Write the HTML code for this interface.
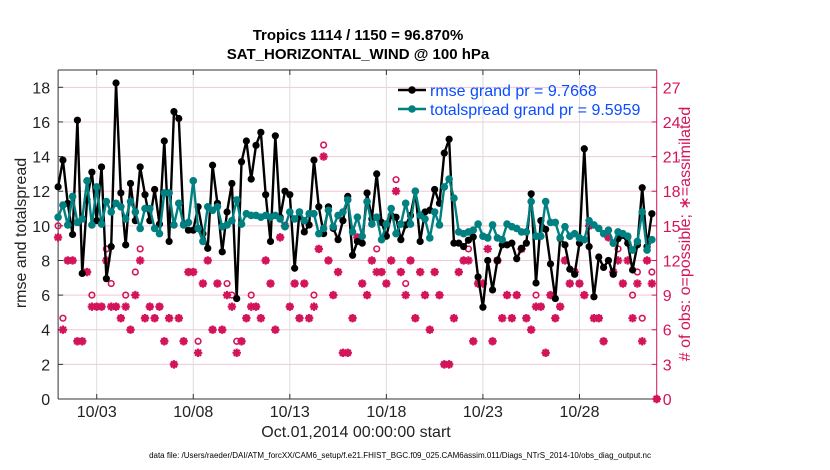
<!DOCTYPE html>
<html><head><meta charset="utf-8"><style>
body{margin:0;background:#fff;}
svg{display:block;font-family:"Liberation Sans",Arial,sans-serif;}
</style></head><body>
<svg id="chart" width="830" height="470"></svg>
<script>
const rmse=[12.25,13.8,11.3,9.5,16.1,7.25,11.5,13.1,10.3,13.4,6.95,8.8,18.25,11.9,8.9,12.45,10.3,13.4,11.8,10.3,12.1,10.1,14.9,9.1,16.6,16.2,10.1,9.75,9.75,11.1,9.55,8.7,13.5,11.3,8.5,10.8,12.45,5.8,13.7,14.9,12.7,14.65,15.4,
11.8,9.1,15.2,10.5,12.0,11.8,7.55,10.8,9.65,10.05,13.8,11.1,9.55,11.1,9.85,9.2,10.3,11.7,8.3,9.1,9.0,11.9,10.4,13.0,10.2,9.4,10.6,10.5,9.2,10.05,10.6,12.0,9.1,10.8,10.9,12.1,11.3,14.2,15.0,9.0,9.0,8.8,
9.17,9.36,7.05,5.3,8.0,6.3,8.0,8.9,8.9,9.0,8.1,8.7,9.0,11.85,6.7,10.3,9.8,7.8,5.8,9.26,8.9,7.5,7.2,9.0,14.45,8.8,5.9,8.2,7.6,8.0,7.2,9.26,9.45,9.0,7.45,8.9,12.2,8.8,10.7];
const spread=[10.5,11.2,10.05,11.7,10.2,10.4,12.6,10.05,12.25,10.1,11.4,10.8,11.3,11.1,10.4,11.4,10.8,9.85,11.0,11.0,9.85,9.55,11.9,11.9,10.05,11.3,10.05,10.2,12.6,9.85,9.1,11.1,10.9,11.1,9.95,10.05,10.3,11.5,10.1,10.7,10.6,10.6,10.5,
10.6,10.5,10.6,10.4,9.95,10.8,10.4,10.8,10.3,10.7,10.7,9.55,9.85,10.9,9.95,10.6,10.8,11.5,9.65,10.5,9.4,11.4,10.1,10.5,9.2,10.1,11.0,9.55,10.1,11.3,10.1,12.0,10.6,10.4,9.3,10.8,10.05,12.25,12.7,11.6,9.65,9.55,
9.65,9.75,10.1,9.4,9.3,10.05,9.3,9.2,10.1,9.95,9.85,9.65,9.65,11.4,9.4,9.4,11.4,10.2,10.2,9.3,9.95,9.4,9.55,9.3,9.2,10.3,10.05,9.85,9.55,9.75,9.0,9.65,9.55,9.4,8.6,9.1,10.8,8.6,9.2];
const possible=[15,7,12,12,5,5,11,9,8,8,13,10,8,7,9,6,11,13,7,8,7,8,5,7,3,7,5,11,11,5,10,12,6,10,6,10,9,5,5,7,9,8,7,
12,10,6,14,15,8,10,7,10,7,9,13,22,12,9,11,4,4,7,14,10,9,12,13,11,10,12,19,11,10,12,7,11,9,6,11,9,3,3,7,11,12,
13,5,10,10,14,5,12,7,9,7,9,13,7,6,9,8,4,9,7,8,12,10,11,10,9,15,7,7,5,14,11,13,10,14,9,11,7,12,11,0];
const assimilated=[14,6,12,12,5,5,11,8,8,8,12,8,8,7,8,6,9,12,7,8,7,8,5,7,3,7,5,11,11,4,10,12,6,10,6,9,8,4,5,7,8,8,7,
12,10,6,14,15,8,10,7,10,7,8,13,21,12,9,11,4,4,7,14,10,9,12,11,11,10,12,18,11,9,12,7,11,9,6,11,9,3,3,7,11,12,
12,5,10,10,13,5,12,7,9,7,9,13,7,6,8,8,4,9,7,8,12,10,11,10,9,15,7,7,5,14,11,12,10,12,7,10,5,12,10,0];
const leftTicks=[0,2,4,6,8,10,12,14,16,18];
const rightTicks=[0,3,6,9,12,15,18,21,24,27];
const dateTicks=[2,7,12,17,22,27];
const dateLabels=["10/03","10/08","10/13","10/18","10/23","10/28"];

const L=58.1,R=656.7,T=70,B=399;
const X=t=>L+(t/31)*(R-L);
const Y=v=>B-(v/19)*(B-T);
const Y2=v=>B-(v/28.5)*(B-T);
const tOf=i=>i*0.25;
const NS="http://www.w3.org/2000/svg";
const svg=document.getElementById('chart');
function mk(tag,attrs,parent){const e=document.createElementNS(NS,tag);for(const k in attrs)e.setAttribute(k,attrs[k]);(parent||svg).appendChild(e);return e;}
const OBS="#d4145a",TEAL="#008080";

// grid
const grid=mk('g',{});


rightTicks.forEach(v=>{if(v>0)mk('line',{x1:L,x2:R,y1:Y2(v),y2:Y2(v),stroke:"#f0c8d8","stroke-width":1},grid);});
dateTicks.forEach(t=>mk('line',{x1:X(t),x2:X(t),y1:T,y2:B,stroke:"#dcdcdc","stroke-width":1},grid));

// axes
const ax=mk('g',{});


mk('line',{x1:L,x2:R,y1:T,y2:T,stroke:"#333","stroke-width":1},ax);
mk('line',{x1:L,x2:R,y1:B,y2:B,stroke:"#333","stroke-width":1},ax);
mk('line',{x1:L,x2:L,y1:T,y2:B,stroke:"#333","stroke-width":1},ax);
mk('line',{x1:R,x2:R,y1:T,y2:B,stroke:OBS,"stroke-width":1},ax);
leftTicks.forEach(v=>{
  mk('line',{x1:L,x2:L+5,y1:Y(v),y2:Y(v),stroke:"#333"},ax);
  const t=mk('text',{x:L-8,y:Y(v)+6,"text-anchor":"end","font-size":16,fill:"#222"},ax);t.textContent=v;
  
  
});
rightTicks.forEach(v=>{
  mk('line',{x1:R-5,x2:R,y1:Y2(v),y2:Y2(v),stroke:OBS},ax);
  const t=mk('text',{x:R+6,y:Y2(v)+6,"font-size":16,fill:OBS},ax);t.textContent=v;
  
  
});
dateTicks.forEach((d,i)=>{
  mk('line',{x1:X(d),x2:X(d),y1:B,y2:B-5,stroke:"#333"},ax);
  mk('line',{x1:X(d),x2:X(d),y1:T,y2:T+5,stroke:"#333"},ax);
  const t=mk('text',{x:X(d),y:417,"text-anchor":"middle","font-size":16,fill:"#222"},ax);t.textContent=dateLabels[i];
  
  
});

// obs
const og=mk('g',{});


possible.forEach((p,i)=>{
  const cx=X(tOf(i)), a=assimilated[i];
  const c=mk('circle',{cx:cx,cy:Y2(p),r:2.8,fill:"none",stroke:OBS,"stroke-width":1.6},og);
  
  
  const cy=Y2(a), s=4.2;
  const st=mk('path',{d:`M${cx-s},${cy}H${cx+s}M${cx},${cy-s}V${cy+s}M${cx-3},${cy-3}L${cx+3},${cy+3}M${cx-3},${cy+3}L${cx+3},${cy-3}`,stroke:OBS,"stroke-width":2.2},og);
  
  
});

function series(vals,color,name,r){
  const g=mk('g',{});
  
  
  const d=vals.map((v,i)=>(i?'L':'M')+X(tOf(i)).toFixed(2)+','+Y(v).toFixed(2)).join('');
  mk('path',{d:d,fill:"none",stroke:color,"stroke-width":2.4,"stroke-linejoin":"round"},g);
  vals.forEach((v,i)=>{
    const c=mk('circle',{cx:X(tOf(i)),cy:Y(v),r:r,fill:color},g);
    
    
  });
}
series(rmse,"#000","rmse-line",3.6);
series(spread,TEAL,"totalspread-line",3.8);

// legend
const lg=mk('g',{});


[["rmse grand pr = 9.7668","#000",90],["totalspread grand pr = 9.5959",TEAL,109]].forEach(([txt,col,y])=>{
  const e=mk('g',{},lg);
  
  
  mk('line',{x1:398,x2:426,y1:y,y2:y,stroke:col,"stroke-width":2.4},e);
  mk('circle',{cx:412,cy:y,r:3.8,fill:col},e);
  const t=mk('text',{x:430,y:y+6,"font-size":16,fill:"#0a4cff"},e);t.textContent=txt;
});
</script>
<svg width="0" height="0"></svg>
<div style="position:absolute;left:0;top:0;width:830px;height:470px;pointer-events:none;font-family:'Liberation Sans',Arial,sans-serif;">
  <div style="position:absolute;left:0;width:716px;top:26px;text-align:center;font-weight:bold;font-size:15px;line-height:19px;color:#000;">Tropics 1114 / 1150 = 96.870%<br>SAT_HORIZONTAL_WIND @ 100 hPa</div>
  <div style="position:absolute;left:-78px;top:224px;width:200px;text-align:center;font-size:16px;color:#222;transform:rotate(-90deg);">rmse and totalspread</div>
  <div style="position:absolute;left:535px;top:224px;width:300px;text-align:center;font-size:16px;color:#d4145a;transform:rotate(-90deg);"># of obs: o=possible; ∗=assimilated</div>
  <div style="position:absolute;left:206px;width:300px;top:424px;text-align:center;font-size:16px;color:#222;">Oct.01,2014 00:00:00 start</div>
  <div style="position:absolute;left:100px;width:600px;top:451px;text-align:center;font-size:8px;color:#000;white-space:nowrap;">data file: /Users/raeder/DAI/ATM_forcXX/CAM6_setup/f.e21.FHIST_BGC.f09_025.CAM6assim.011/Diags_NTrS_2014-10/obs_diag_output.nc</div>
</div>
</body></html>
